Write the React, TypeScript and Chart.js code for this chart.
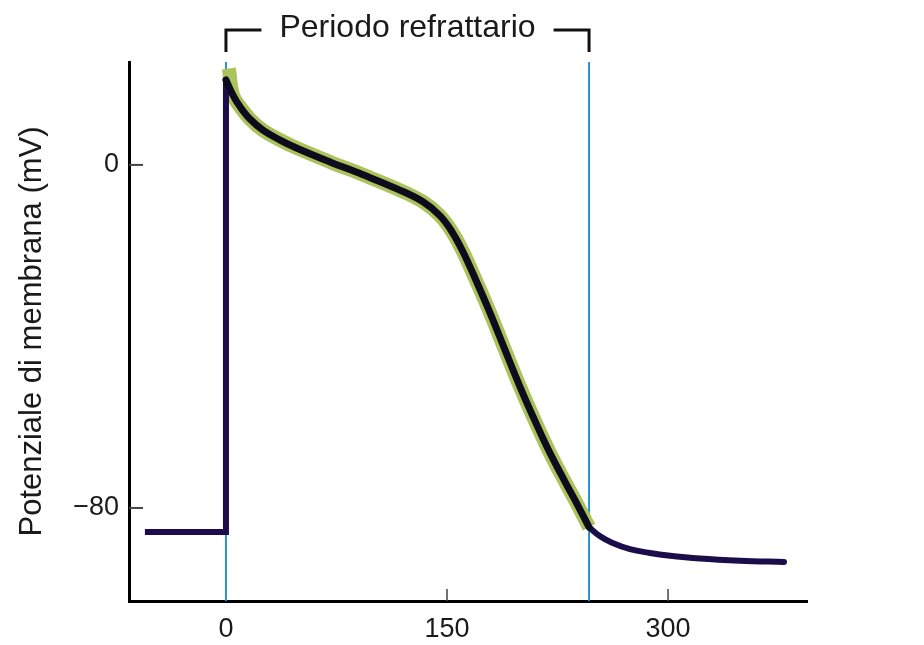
import React, { useEffect, useRef } from "react";
import { Chart, registerables } from "chart.js";

Chart.register(...registerables);

// ---- data ----
const X_TICKS = [0, 150, 300];
const Y_TICKS = [0, -80];
const X_MIN = -65.8;
const X_MAX = 394.3;
const Y_MIN = -101.7;
const Y_MAX = 24.0;

const REFRACTORY_START = 0;
const REFRACTORY_END = 246.4;

const REST_X = [-55, 0, 0];
const REST_Y = [-85.6, -85.6, 19.8];

const PLATEAU_X = [0, 4.75, 9.5, 16.3, 25.1, 36.7, 48.2, 70.6, 93.0, 116.1, 133.7, 145.3, 153.4, 160.9, 169.0, 179.2, 189.4, 199.6, 209.7, 219.9, 230.1, 238.9, 246.4];
const PLATEAU_Y = [19.8, 16.3, 13.6, 10.7, 8.1, 5.8, 3.9, 0.7, -2.3, -5.6, -8.6, -11.9, -15.6, -20.3, -26.4, -34.5, -43.2, -51.8, -59.7, -67.2, -73.9, -79.5, -84.5];

const HALO_X = [2.0, ...PLATEAU_X.slice(1)];
const HALO_Y = [22.5, ...PLATEAU_Y.slice(1)];

const TAIL_X = [246.4, 253.9, 262.0, 274.2, 287.8, 300.0, 321.7, 348.9, 378.7];
const TAIL_Y = [-84.5, -86.6, -88.1, -89.6, -90.5, -91.1, -91.8, -92.3, -92.6];

const TITLE = "Periodo refrattario";
const Y_TITLE = "Potenziale di membrana (mV)";

const pts = (xs: number[], ys: number[]) => xs.map((x, i) => ({ x, y: ys[i] }));

const FONT = "'Liberation Sans', Arial, sans-serif";

const overlayPlugin = {
  id: "overlay",
  beforeDatasetsDraw(chart: any) {
    const { ctx, chartArea, scales } = chart;
    const xs = scales.x;
    ctx.save();
    ctx.strokeStyle = "#2b8fd2";
    ctx.lineWidth = 2;
    [REFRACTORY_START, REFRACTORY_END].forEach((v) => {
      const px = xs.getPixelForValue(v);
      ctx.beginPath();
      ctx.moveTo(px, chartArea.top);
      ctx.lineTo(px, chartArea.bottom);
      ctx.stroke();
    });
    ctx.restore();
  },
  afterDraw(chart: any) {
    const { ctx, chartArea, scales } = chart;
    const xs = scales.x;
    const ys = scales.y;
    ctx.save();
    // inward tick marks
    ctx.strokeStyle = "#444";
    ctx.lineWidth = 2;
    Y_TICKS.forEach((v) => {
      const py = ys.getPixelForValue(v);
      ctx.beginPath();
      ctx.moveTo(chartArea.left, py);
      ctx.lineTo(chartArea.left + 14, py);
      ctx.stroke();
    });
    ctx.lineWidth = 1.5;
    X_TICKS.filter((v) => v !== REFRACTORY_START).forEach((v) => {
      const px = xs.getPixelForValue(v);
      ctx.beginPath();
      ctx.moveTo(px, chartArea.bottom);
      ctx.lineTo(px, chartArea.bottom - 12);
      ctx.stroke();
    });
    // bracket + title
    const x0 = xs.getPixelForValue(REFRACTORY_START);
    const x1 = xs.getPixelForValue(REFRACTORY_END);
    const cx = (x0 + x1) / 2;
    ctx.font = `32px ${FONT}`;
    const tw = ctx.measureText(TITLE).width;
    ctx.fillStyle = "#1a1a1a";
    ctx.textAlign = "center";
    ctx.textBaseline = "alphabetic";
    ctx.fillText(TITLE, cx, 37);
    ctx.strokeStyle = "#111";
    ctx.lineWidth = 3;
    ctx.lineCap = "butt";
    ctx.lineJoin = "miter";
    ctx.beginPath();
    ctx.moveTo(x0, 52);
    ctx.lineTo(x0, 30);
    ctx.lineTo(cx - tw / 2 - 18, 30);
    ctx.stroke();
    ctx.beginPath();
    ctx.moveTo(cx + tw / 2 + 18, 30);
    ctx.lineTo(x1, 30);
    ctx.lineTo(x1, 52);
    ctx.stroke();
    ctx.restore();
  },
};

export default function App() {
  const ref = useRef<HTMLCanvasElement | null>(null);
  useEffect(() => {
    if (!ref.current) return;
    const chart = new Chart(ref.current, {
      type: "scatter",
      data: {
        datasets: [
          {
            data: pts(HALO_X, HALO_Y),
            showLine: true,
            borderColor: "#aac35a",
            borderWidth: 14,
            pointRadius: 0,
            tension: 0.4,
            borderCapStyle: "butt",
            order: 4,
          } as any,
          {
            data: pts(REST_X, REST_Y),
            showLine: true,
            borderColor: "#1e0b4c",
            borderWidth: 6,
            pointRadius: 0,
            tension: 0,
            borderJoinStyle: "miter",
            order: 3,
          } as any,
          {
            data: pts(TAIL_X, TAIL_Y),
            showLine: true,
            borderColor: "#1b0d4a",
            borderWidth: 6,
            pointRadius: 0,
            tension: 0.4,
            borderCapStyle: "round",
            order: 2,
          } as any,
          {
            data: pts(PLATEAU_X, PLATEAU_Y),
            showLine: true,
            borderColor: "#0c0c1c",
            borderWidth: 7,
            pointRadius: 0,
            tension: 0.4,
            borderCapStyle: "round",
            order: 1,
          } as any,
        ],
      },
      options: {
        responsive: false,
        animation: false,
        devicePixelRatio: 1,
        layout: { padding: { top: 62, right: 117, bottom: 0, left: 0 } },
        plugins: {
          legend: { display: false },
          tooltip: { enabled: false },
          title: { display: false },
        },
        scales: {
          x: {
            type: "linear",
            min: X_MIN,
            max: X_MAX,
            afterBuildTicks: (s: any) => {
              s.ticks = X_TICKS.map((v) => ({ value: v }));
            },
            afterFit: (s: any) => {
              s.height = 44;
            },
            ticks: {
              font: { size: 27, family: FONT },
              color: "#1a1a1a",
              padding: 12,
              maxRotation: 0,
              autoSkip: false,
            },
            grid: { drawOnChartArea: false, drawTicks: false },
            border: { color: "#000", width: 3 },
          },
          y: {
            type: "linear",
            min: Y_MIN,
            max: Y_MAX,
            afterBuildTicks: (s: any) => {
              s.ticks = Y_TICKS.map((v) => ({ value: v }));
            },
            afterFit: (s: any) => {
              s.width = 129;
            },
            ticks: {
              font: { size: 27, family: FONT },
              color: "#1a1a1a",
              padding: 10,
              autoSkip: false,
              callback: (v: any) => (Number(v) < 0 ? "\u2212" + Math.abs(Number(v)) : String(v)),
            },
            grid: { drawOnChartArea: false, drawTicks: false },
            border: { color: "#000", width: 3 },
            title: {
              display: true,
              text: Y_TITLE,
              font: { size: 31, family: FONT },
              color: "#1a1a1a",
              padding: { top: 14, bottom: 0 },
            },
          },
        },
      },
      plugins: [overlayPlugin],
    });
    return () => chart.destroy();
  }, []);
  return (
    <div style={{ position: "fixed", left: 0, top: 0, width: 924, height: 645, background: "#fff" }}>
      <canvas ref={ref} width={924} height={645} style={{ display: "block", width: 924, height: 645 }} />
    </div>
  );
}
